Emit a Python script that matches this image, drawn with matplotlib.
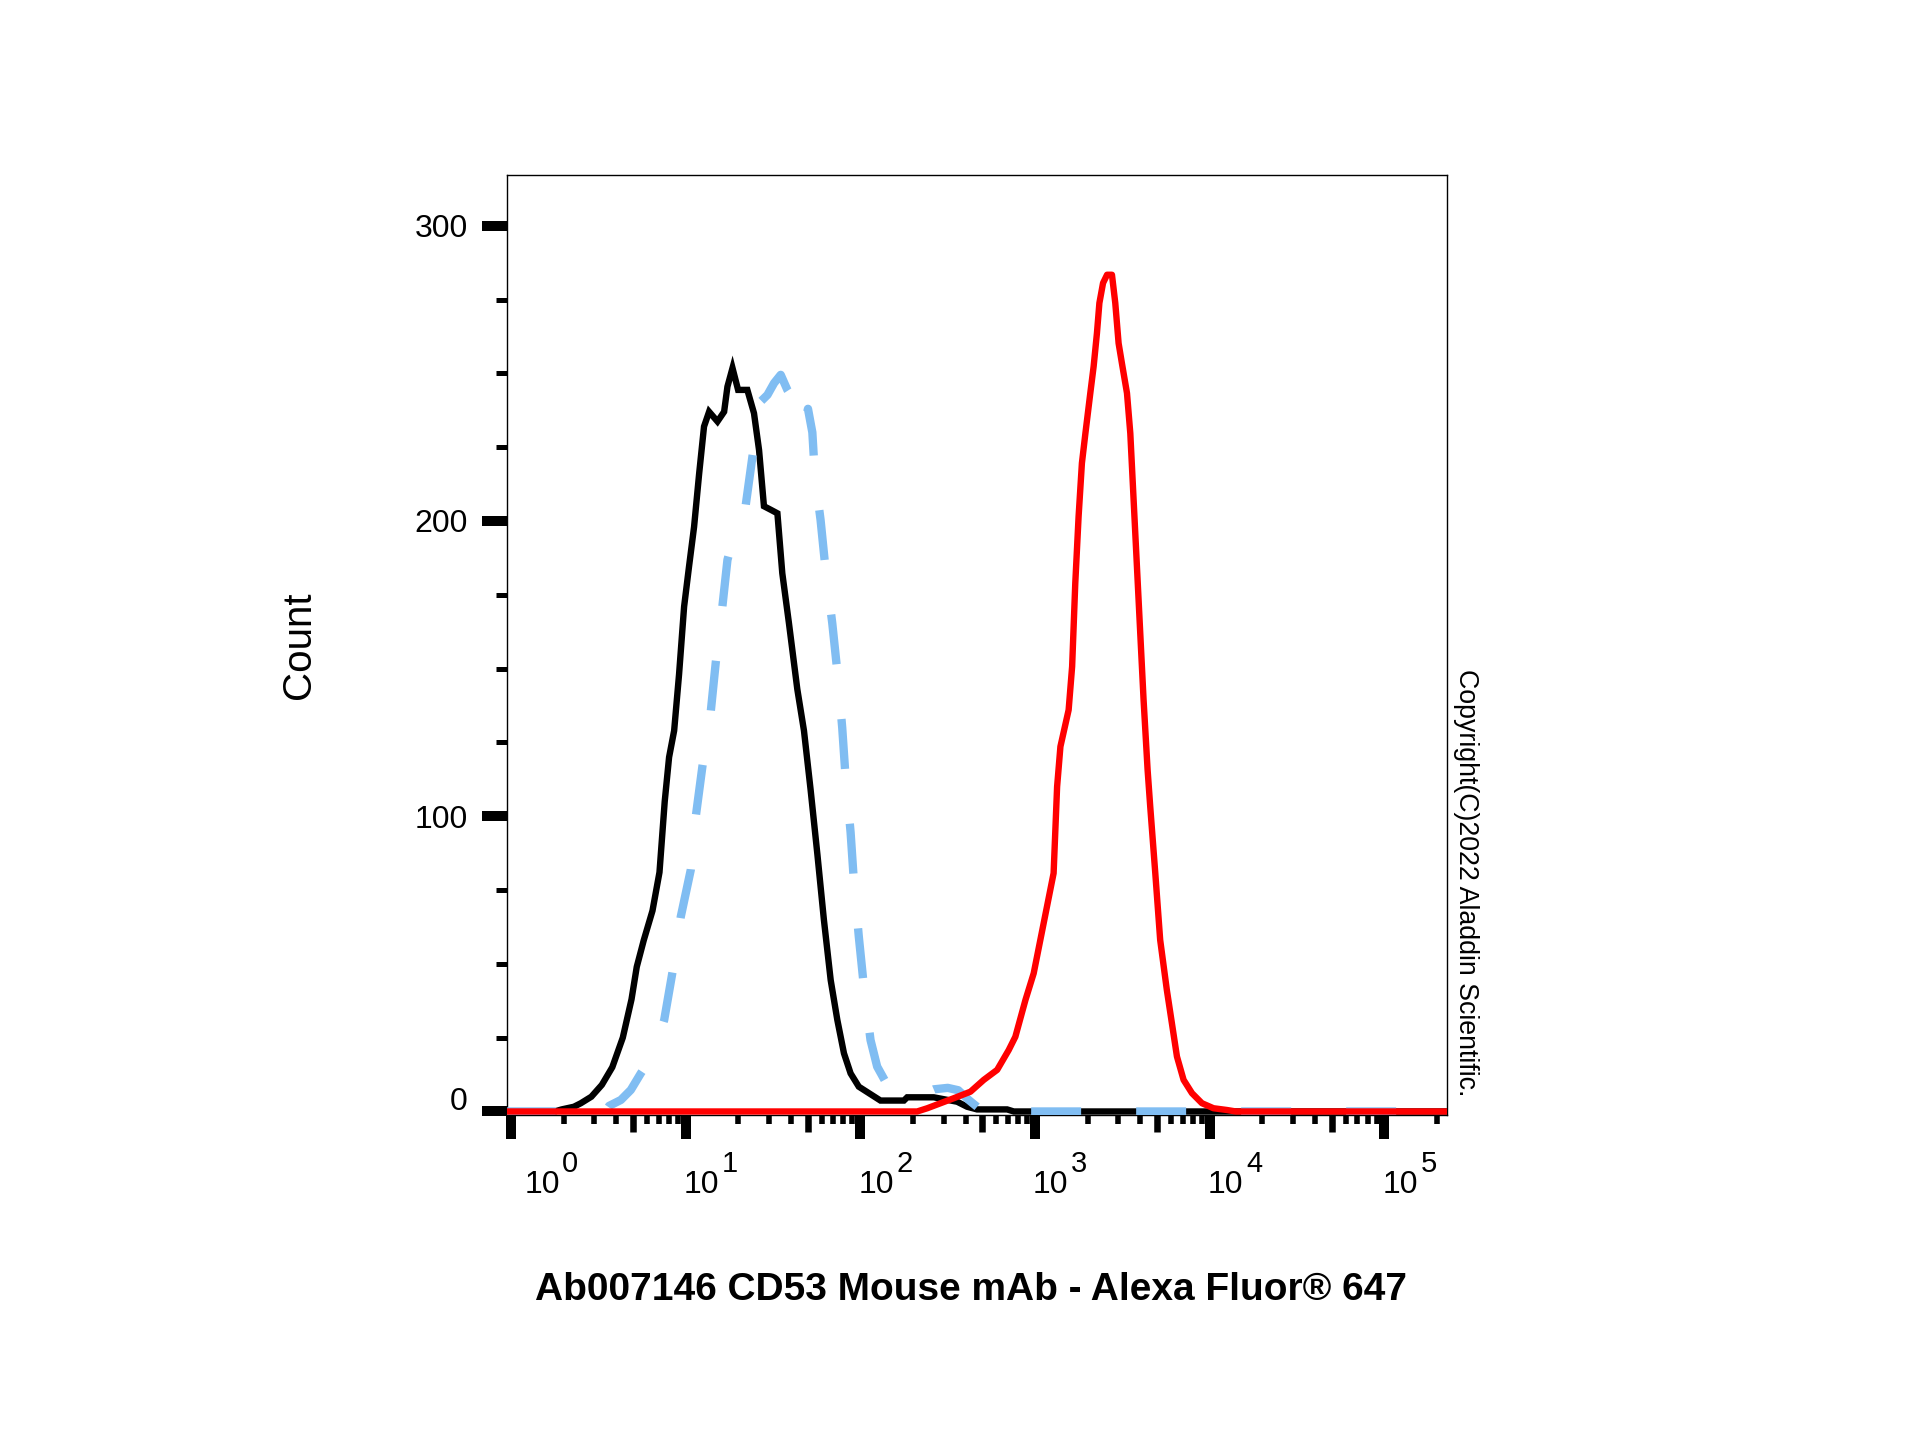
import numpy as np
import matplotlib
matplotlib.use("Agg")
import matplotlib.pyplot as plt
from matplotlib.ticker import FixedLocator, NullLocator, NullFormatter, LogLocator
from matplotlib.transforms import ScaledTranslation

plt.rcParams['font.family'] = ['Liberation Sans', 'DejaVu Sans']

# ---- data (log10 of fluorescence intensity, event count) ----
black_log = [-0.03, 0.25, 0.29, 0.36, 0.40, 0.46, 0.52, 0.58, 0.64, 0.69, 0.72, 0.76, 0.81, 0.85,
             0.88, 0.905, 0.934, 0.962, 0.991, 1.019, 1.048, 1.077, 1.105, 1.134, 1.182, 1.22,
             1.239, 1.268, 1.30, 1.353, 1.391, 1.42, 1.448, 1.487, 1.525, 1.553, 1.591, 1.639,
             1.677, 1.715, 1.754, 1.791, 1.83, 1.868, 1.906, 1.944, 1.991, 2.049, 2.115, 2.249,
             2.268, 2.42, 2.554, 2.611, 2.668, 2.84, 2.878, 5.40]
black_cnt = [0, 0, 0.7, 1.6, 2.8, 5, 9, 15, 25, 38, 49, 58, 68, 81,
             105, 120, 129, 148, 171, 184.5, 198, 216, 232, 237, 233.7, 237,
             245.5, 251.8, 244.4, 244.4, 236.5, 224, 205, 203.8, 202.6, 182.3, 165.4, 143,
             129, 109, 87, 65, 44.5, 31, 19.7, 12.9, 8.4, 6.2, 3.7, 3.7,
             4.8, 4.8, 3.3, 1.6, 0.7, 0.7, 0, 0]

blue_log = [-0.03, 0.54, 0.562, 0.629, 0.686, 0.743, 0.819, 0.877, 0.925, 0.972, 1.029, 1.058,
            1.096, 1.144, 1.172, 1.21, 1.239, 1.29, 1.344, 1.382, 1.43, 1.468, 1.506, 1.544,
            1.582, 1.63, 1.68, 1.70, 1.725, 1.74, 1.772, 1.801, 1.839, 1.868, 1.896, 1.915,
            1.944, 1.963, 1.991, 2.02, 2.058, 2.096, 2.154, 2.22, 2.30, 2.38, 2.42, 2.50,
            2.56, 2.60, 2.62, 2.68, 2.75, 5.40]
blue_cnt = [0, 0, 1.9, 3.9, 7.3, 12.9, 19.7, 31, 47.4, 66, 81.8, 100,
            117, 135.7, 152, 171, 186.8, 198, 205.5, 221.8, 240.5, 242.7, 246.7, 249.5,
            244.4, 240, 232, 238, 230, 215, 200.4, 183.4, 165.4, 149, 130, 113.4,
            94.5, 77.8, 59.2, 42.3, 24.2, 15.2, 9, 6.5, 6, 6.5, 7.5, 8,
            7.2, 5, 3.9, 1, 0, 0]

red_log = [-0.03, 2.325, 2.383, 2.459, 2.535, 2.63, 2.706, 2.783, 2.849, 2.887, 2.945, 2.992,
           3.03, 3.068, 3.106, 3.126, 3.145, 3.192, 3.212, 3.23, 3.249, 3.268, 3.288, 3.316,
           3.335, 3.354, 3.368, 3.389, 3.412, 3.44, 3.459, 3.478, 3.497, 3.526, 3.545, 3.564,
           3.583, 3.602, 3.621, 3.644, 3.659, 3.688, 3.716, 3.754, 3.783, 3.812, 3.85, 3.898,
           3.955, 4.021, 4.098, 4.15, 5.40]
red_cnt = [0, 0, 1.1, 2.8, 4.5, 6.7, 10.7, 14.1, 20.8, 25.3, 37.8, 46.8,
           58.1, 69.4, 80.7, 110, 123.6, 136, 150.7, 178.9, 201.5, 219.6, 229.7, 243.3,
           252.3, 263.6, 273.8, 280.6, 283.4, 283.4, 273.8, 260.2, 253.4, 243.3, 229.7, 207.1,
           184.5, 161.9, 139.4, 115.7, 103.3, 80.7, 58.1, 41.2, 29.9, 18.6, 10.7, 6.2,
           2.8, 1.1, 0.5, 0, 0]

y_ticks = [0, 100, 200, 300]
y_minor = [25, 50, 75, 125, 150, 175, 225, 250, 275]
x_decades = [0, 1, 2, 3, 4, 5]
x_label = "Ab007146 CD53 Mouse mAb - Alexa Fluor\u00ae 647"
y_label = "Count"
copyright_text = "Copyright(C)2022 Aladdin Scientific."

# ---- figure ----
fig = plt.figure(figsize=(19.2, 14.4), dpi=100)
ax = fig.add_axes([0.2639, 0.2257, 0.7538 - 0.2639, 0.8785 - 0.2257])
ax.set_xscale('log')
ax.set_xlim(0.945, 2.288e5)
ax.set_ylim(-1.19, 317.2)

ax.plot(10 ** np.array(black_log), black_cnt, color='black', lw=4.6,
        solid_joinstyle='miter', zorder=3)
ax.plot(10 ** np.array(blue_log), blue_cnt, color='#80BDF2', lw=6.0,
        dashes=(6.0, 6.6), dash_capstyle='butt', zorder=4)
ax.plot(10 ** np.array(red_log), red_cnt, color='#FF0000', lw=4.6, zorder=5)

for s in ax.spines.values():
    s.set_linewidth(1.0)
    s.set_color('black')

# y ticks
ax.yaxis.set_major_locator(FixedLocator(y_ticks))
ax.yaxis.set_minor_locator(FixedLocator(y_minor))
ax.tick_params(axis='y', which='major', direction='out', length=18, width=7.2,
               pad=10, labelsize=23)
ax.tick_params(axis='y', which='minor', direction='out', length=8, width=3.6)
zero_lbl = ax.yaxis.get_major_ticks()[0].label1
zero_lbl.set_transform(zero_lbl.get_transform() +
                       ScaledTranslation(0, 9.4 / 72, fig.dpi_scale_trans))

# x ticks
ax.xaxis.set_major_locator(FixedLocator([10.0 ** k for k in x_decades]))
ax.xaxis.set_major_formatter(NullFormatter())
ax.xaxis.set_minor_locator(LogLocator(base=10, subs=[2, 3, 4, 6, 7, 8, 9], numticks=30))
ax.xaxis.set_minor_formatter(NullFormatter())
ax.tick_params(axis='x', which='major', direction='out', length=17.3, width=7.2)
ax.tick_params(axis='x', which='minor', direction='out', length=6.5, width=4.0)

sec = ax.secondary_xaxis('bottom')
sec.set_xticks([5.0 * 10 ** k for k in x_decades[:5]])
sec.xaxis.set_minor_locator(NullLocator())
sec.tick_params(axis='x', which='major', direction='out', length=12, width=4.7,
                labelbottom=False)
sec.tick_params(axis='x', which='minor', length=0)
sec.spines['bottom'].set_visible(False)

# decade labels 10^k
for k in x_decades:
    dx = 9.5 if k == 0 else -1.5
    ax.annotate('10', xy=(10.0 ** k, 0), xycoords=('data', 'axes fraction'),
                xytext=(dx, -56.2), textcoords='offset points', ha='left',
                va='baseline', fontsize=23, annotation_clip=False)
    ax.annotate(str(k), xy=(10.0 ** k, 0), xycoords=('data', 'axes fraction'),
                xytext=(dx + 27.5, -56.2 + 15.3), textcoords='offset points', ha='left',
                va='baseline', fontsize=21, annotation_clip=False)

fig.text(299 / 1920, 1 - 645 / 1440, y_label, rotation=90, ha='center', va='center',
         fontsize=29)
fig.text(970.7 / 1920, 1 - 1300 / 1440, x_label, ha='center', va='baseline',
         fontsize=28, fontweight='bold')
fig.text(1466 / 1920, 1 - 883 / 1440, copyright_text, rotation=270, ha='center',
         va='center', fontsize=19.3)

fig.savefig('out.png', dpi=100, facecolor='white')
